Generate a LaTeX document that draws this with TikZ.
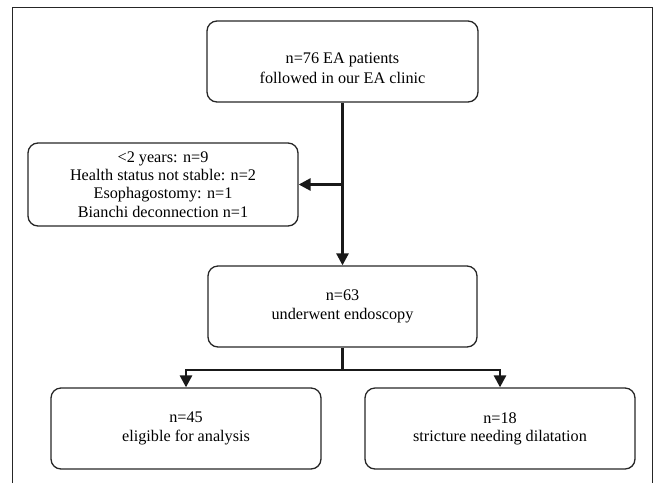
\documentclass[tikz,border=0pt]{standalone}
\usepackage{fontspec}
\setmainfont{Liberation Serif}
\usetikzlibrary{arrows.meta}
\begin{document}
\begin{tikzpicture}[x=1pt,y=-1pt,
  box/.style={draw=black!85, line width=1.3pt, rounded corners=10pt, align=center,
    minimum width=270pt, minimum height=81pt, inner sep=0pt,
    font=\fontsize{16.2}{18.3}\selectfont},
  link/.style={line width=2.7pt, black!90},
  arr/.style={link, -{Triangle[length=12pt,width=12pt]}},
  frame/.style={line width=1.5pt, black!85}]
\useasboundingbox (0,0) rectangle (655,483);
\draw[frame] (12.5,483) -- (12.5,7.3) -- (652.5,7.3) -- (652.5,483);
\node[box, minimum width=271pt, font=\fontsize{16.2}{20.5}\selectfont] (top) at (342.5,61.5)
  {\rule{0pt}{24pt}n=76 EA patients\\followed in our EA clinic};
\node[box, minimum height=83pt] (left) at (163,184.5)
  {<2 years: n=9\\Health status not stable: n=2\\Esophagostomy: n=1\\Bianchi deconnection n=1};
\node[box, minimum width=269pt] (mid) at (342.5,306.5) {n=63\\underwent endoscopy};
\node[box] (bl) at (186,428.5) {n=45\\eligible for analysis};
\node[box] (br) at (500,428.5) {n=18\\stricture needing dilatation};
\draw[arr] (top.south) -- (mid.north);
\draw[arr] (top.south |- left.east) -- (left.east);
\coordinate (j) at (342.5,370);
\draw[link] (mid.south) -- (j);
\draw[arr] (j) -| (bl.north);
\draw[arr] (j) -| (br.north);
\end{tikzpicture}
\end{document}
